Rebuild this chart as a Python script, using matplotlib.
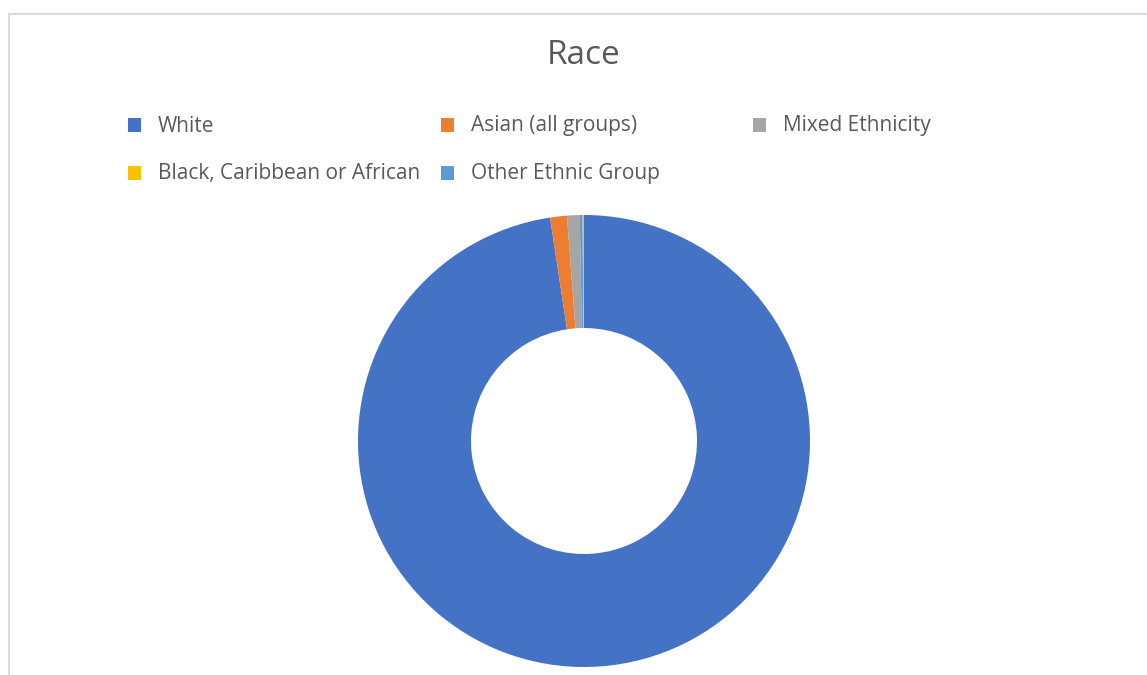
import matplotlib
matplotlib.use("Agg")
import matplotlib.pyplot as plt
from matplotlib.patches import Rectangle
from matplotlib.lines import Line2D

plt.rcParams['font.family'] = ['Open Sans', 'DejaVu Sans']

# Data (legend order)
categories = ["White", "Asian (all groups)", "Mixed Ethnicity",
              "Black, Caribbean or African", "Other Ethnic Group"]
values = [97.6, 1.2, 0.9, 0.1, 0.2]
colors = ["#4472C4", "#ED7D31", "#A5A5A5", "#FFC000", "#5B9BD5"]
# clockwise drawing order as seen in the chart
draw_order = [0, 1, 2, 4, 3]
title = "Race"

W, H = 1147, 675
fig = plt.figure(figsize=(W / 100, H / 100), dpi=100)
fig.patch.set_facecolor("white")

# chart-area border (top and left visible)
fig.add_artist(Line2D([9 / W, 1.0], [1 - 14 / H, 1 - 14 / H], color="#d9d9d9", lw=1.5))
fig.add_artist(Line2D([9 / W, 9 / W], [0, 1 - 14 / H], color="#d9d9d9", lw=1.5))

# donut
cx, cy, r = 584, 441, 226
ax = fig.add_axes([(cx - r) / W, (H - cy - r) / H, 2 * r / W, 2 * r / H])
ax.pie([values[i] for i in draw_order],
       colors=[colors[i] for i in draw_order],
       startangle=90, counterclock=False, radius=1.0,
       wedgeprops=dict(width=0.5, linewidth=0))
ax.set_xlim(-1, 1)
ax.set_ylim(-1, 1)
ax.set_aspect("equal")
ax.axis("off")

# title
fig.text(584 / W, 1 - 56 / H, title, ha="center", va="center",
         fontsize=24, color="#595959")

# legend (row-major, 3 columns)
col_x = [130, 443, 755]
row_y = [125, 173]
for k, (lab, col) in enumerate(zip(categories, colors)):
    x = col_x[k % 3]
    y = row_y[k // 3]
    s = 13
    fig.add_artist(Rectangle(((x - 2) / W, 1 - (y + s / 2) / H), s / W, s / H,
                             transform=fig.transFigure, facecolor=col, edgecolor="none"))
    fig.text((x + 28) / W, 1 - (y + 1) / H, lab, ha="left", va="center",
             fontsize=15, color="#595959")

fig.savefig("out.png", dpi=100, facecolor="white")
